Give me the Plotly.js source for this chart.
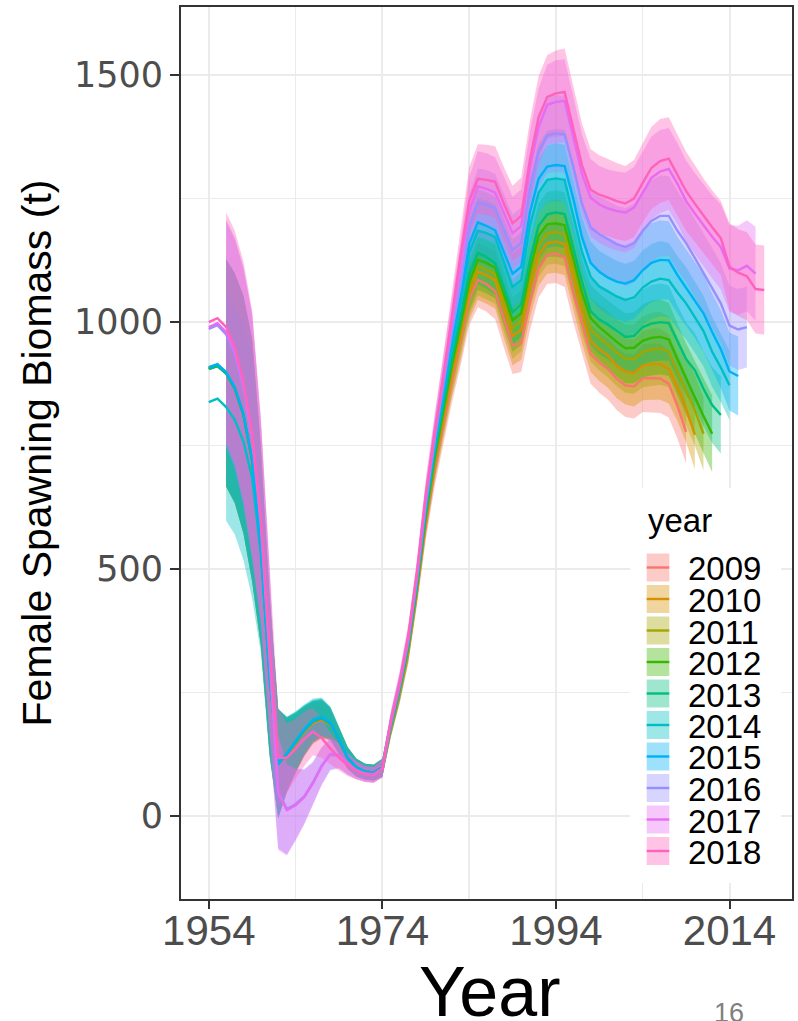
<!DOCTYPE html>
<html>
<head>
<meta charset="utf-8">
<script src="https://cdn.plot.ly/plotly-3.0.1.min.js"></script>
<style>
  html, body { margin: 0; padding: 0; background: #ffffff; }
  #chart { width: 798px; height: 1021px; }
</style>
</head>
<body>
<div id="chart"></div>
<script>
// Female spawning biomass (t) by assessment year, annual series starting in 1954.
const firstYear = 1954;
const assessYears = ['2009', '2010', '2011', '2012', '2013', '2014', '2015', '2016', '2017', '2018'];

const ssb2009 = [905,911,896,865,811,718,542,282,105,122,146,170,188,195,185,151,117,98,90,88,97,
  180,250,335,455,590,700,790,880,960,1045,1085,1077,1062,1005,953,957,
  1040,1108,1136,1139,1131,1060,997,935,918,
  905,885,872,870,886,887,886,875,830,778];
const ssb2010 = [908,914,898,867,813,720,545,284,106,123,147,171,189,196,186,152,117,98,90,88,97,
  182,252,338,460,598,710,803,893,972,1058,1102,1095,1085,1027,972,984,
  1068,1135,1160,1163,1158,1092,1020,962,945,
  932,912,900,897,912,915,915,905,868,825,772];
const ssb2011 = [907,913,897,866,812,719,544,285,106,124,148,172,190,197,186,152,117,98,90,88,98,
  183,254,340,463,602,716,810,902,982,1070,1113,1106,1097,1042,988,1003,
  1088,1155,1180,1183,1178,1110,1040,985,968,
  955,938,926,925,940,945,947,940,900,860,822,774];
const ssb2012 = [906,912,897,866,812,720,545,286,107,125,149,173,191,198,187,153,118,98,90,88,98,
  184,256,343,466,607,722,818,912,993,1080,1126,1120,1110,1056,1004,1018,
  1105,1175,1198,1200,1196,1130,1060,1008,990,
  975,960,947,948,962,968,970,965,925,885,848,810,774];
const ssb2013 = [905,911,896,865,811,720,546,287,107,126,150,174,193,200,189,154,118,99,90,88,98,
  185,258,346,470,613,730,828,925,1008,1097,1140,1132,1119,1068,1020,1036,
  1125,1195,1218,1222,1219,1150,1082,1022,1005,
  995,982,970,972,990,997,1000,998,960,925,903,865,832,812];
const ssb2014 = [838,845,828,802,758,685,530,280,104,126,152,176,196,202,190,155,118,98,90,88,98,
  186,260,350,475,620,740,845,945,1035,1140,1185,1180,1172,1120,1071,1085,
  1195,1262,1288,1291,1288,1216,1142,1092,1072,
  1062,1052,1045,1050,1070,1082,1088,1085,1060,1038,1010,982,940,908,872];
const ssb2015 = [909,915,899,868,814,722,548,288,107,125,150,174,192,199,188,153,118,98,90,88,98,
  188,262,352,478,625,748,855,958,1050,1158,1202,1195,1186,1140,1098,1112,
  1222,1290,1315,1318,1316,1250,1172,1120,1102,
  1090,1082,1078,1085,1105,1120,1126,1125,1095,1070,1045,1018,980,945,900,891];
const ssb2016 = [986,994,975,935,866,765,590,330,50,14,24,40,68,102,124,122,106,93,86,84,96,
  190,265,355,482,632,758,870,980,1075,1192,1242,1238,1230,1188,1146,1160,
  1270,1345,1378,1382,1380,1315,1240,1192,1178,
  1168,1158,1152,1160,1185,1205,1215,1215,1185,1160,1130,1100,1070,1038,993,985,990];
const ssb2017 = [990,998,980,940,872,770,600,335,46,12,22,38,66,100,126,124,106,93,85,83,96,
  195,272,365,495,650,775,890,1005,1110,1225,1275,1270,1262,1222,1180,1195,
  1310,1395,1440,1446,1448,1375,1300,1252,1238,
  1230,1225,1222,1232,1262,1292,1305,1310,1280,1245,1220,1196,1173,1152,1108,1105,1114,1098];
const ssb2018 = [1000,1008,990,950,880,775,600,340,118,118,136,156,171,158,137,118,103,92,85,84,96,
  192,268,362,492,645,770,885,1010,1135,1245,1290,1288,1284,1240,1200,1215,
  1328,1415,1456,1463,1466,1392,1318,1268,1258,
  1252,1245,1240,1250,1282,1312,1326,1331,1298,1265,1240,1215,1192,1170,1112,1100,1093,1067,1065];

// Half-width of the 95% interval (t); no interval for the first two years.
const ci2009 = [null,null,230,232,240,245,200,160,110,75,60,50,42,38,32,26,22,18,16,16,18,20,22,25,28,32,36,40,45,50,
  52,55,56,56,57,58,58,57,58,59,60,60,60,60,60,61,62,63,64,65,68,70,70,68,66,64];
const ci2010 = [null,null,230,232,240,245,200,160,110,75,60,50,42,38,32,26,22,18,16,16,18,20,22,25,28,32,36,40,45,50,
  54,57,58,58,59,60,60,60,61,62,63,63,63,63,63,64,65,66,67,68,70,72,72,70,68,68,70];
const ci2011 = [null,null,230,232,240,245,200,160,110,75,60,50,42,38,32,26,22,18,16,16,18,20,22,25,28,32,36,40,45,50,
  56,59,60,60,61,62,62,62,63,64,65,65,65,65,65,66,67,68,69,70,72,74,74,72,70,70,72,74];
const ci2012 = [null,null,230,232,240,245,200,160,110,75,60,50,42,38,32,26,22,18,16,16,18,20,22,25,28,32,36,40,45,50,
  58,61,62,62,63,64,64,64,65,66,67,67,67,67,67,68,69,70,71,72,74,76,76,74,72,72,74,76,78];
const ci2013 = [null,null,230,232,240,245,200,160,110,75,60,50,42,38,32,26,22,18,16,16,18,20,22,25,28,32,36,40,45,50,
  60,63,64,64,65,66,66,66,67,68,69,69,69,69,69,70,71,72,73,74,76,78,78,76,74,74,75,76,77,78];
const ci2014 = [null,null,230,232,240,245,200,160,110,75,60,50,42,38,32,26,22,18,16,16,18,20,22,25,28,32,36,40,45,50,
  62,65,66,66,67,68,68,68,69,70,71,71,71,71,71,72,72,72,73,74,75,76,76,75,74,73,72,72,71,70,70];
const ci2015 = [null,null,230,232,240,245,200,160,110,75,60,50,42,38,32,26,22,18,16,16,18,20,22,25,28,32,36,40,45,50,
  64,67,68,68,69,70,70,70,71,72,73,73,73,73,73,74,75,76,77,78,79,80,80,79,78,77,77,78,78,79,79,80];
const ci2016 = [null,null,228,232,240,248,205,165,115,92,72,55,42,38,32,26,22,18,16,16,18,20,22,25,28,32,36,40,45,52,
  66,69,70,70,71,72,72,72,74,76,78,78,77,76,75,76,77,78,79,80,81,82,82,81,80,79,79,80,80,81,81,82,82];
const ci2017 = [null,null,228,232,240,248,205,165,115,92,72,55,42,38,32,26,22,18,16,16,18,20,22,25,28,32,36,40,45,52,
  68,71,72,72,73,74,74,75,78,81,84,84,82,80,78,78,79,80,81,82,83,84,84,83,82,82,82,83,84,86,88,90,92,95];
const ci2018 = [null,null,232,235,242,248,205,165,100,70,60,55,48,40,32,26,22,18,16,16,18,20,22,25,28,32,36,40,46,55,
  68,70,71,72,74,76,78,80,83,85,87,88,86,84,82,80,78,77,76,78,80,83,85,84,82,80,78,76,75,75,88,88,89,90,90];

const xTickVals = [1954, 1974, 1994, 2014];
const yTickVals = [0, 500, 1000, 1500];

const ssbSeries = [ssb2009, ssb2010, ssb2011, ssb2012, ssb2013, ssb2014, ssb2015, ssb2016, ssb2017, ssb2018];
const ciSeries = [ci2009, ci2010, ci2011, ci2012, ci2013, ci2014, ci2015, ci2016, ci2017, ci2018];

// ggplot-style hue palette for ten groups
const palette = ['#F8766D', '#D89000', '#A3A500', '#39B600', '#00BF7D',
                 '#00BFC4', '#00B0F6', '#9590FF', '#E76BF3', '#FF62BC'];
const ribbonAlpha = 0.38;

function rgba(hex, a) {
  const n = parseInt(hex.slice(1), 16);
  return 'rgba(' + ((n >> 16) & 255) + ',' + ((n >> 8) & 255) + ',' + (n & 255) + ',' + a + ')';
}

const traces = [];

// Interval ribbons first, then the estimate lines on top of all of them.
ssbSeries.forEach(function (vals, i) {
  const ci = ciSeries[i];
  const xs = [], up = [], lo = [];
  vals.forEach(function (v, k) {
    if (ci[k] !== null) {
      xs.push(firstYear + k);
      up.push(v + ci[k]);
      lo.push(v - ci[k]);
    }
  });
  traces.push({
    type: 'scatter', mode: 'lines',
    x: xs.concat(xs.slice().reverse()),
    y: up.concat(lo.slice().reverse()),
    fill: 'toself', fillcolor: rgba(palette[i], ribbonAlpha),
    line: { width: 0, color: rgba(palette[i], 0) },
    hoverinfo: 'skip', showlegend: false
  });
});

ssbSeries.forEach(function (vals, i) {
  traces.push({
    type: 'scatter', mode: 'lines',
    name: assessYears[i],
    x: vals.map(function (_, k) { return firstYear + k; }),
    y: vals,
    line: { color: palette[i], width: 2.4 },
    showlegend: false
  });
});

// Plot-area geometry (px) used to place the in-panel key and the x title.
const W = 798, H = 1021;
const M = { l: 181, r: 6, t: 7, b: 122 };
const pw = W - M.l - M.r, ph = H - M.t - M.b;
const px = function (x) { return (x - M.l) / pw; };
const py = function (y) { return (H - M.b - y) / ph; };

const shapes = [];
const annotations = [];

// key background
shapes.push({ type: 'rect', xref: 'paper', yref: 'paper', layer: 'above',
  x0: px(630), x1: px(781), y0: py(883), y1: py(488),
  fillcolor: '#ffffff', line: { width: 0 } });

annotations.push({ xref: 'paper', yref: 'paper', x: px(645.5), y: py(520.5),
  xanchor: 'left', yanchor: 'middle', showarrow: false, text: 'year',
  font: { family: 'Liberation Sans, Arial, sans-serif', size: 33, color: '#000000' } });

const keyTop = 553.5, keyStep = 31.5, keyH = 28, keyX0 = 646.7, keyX1 = 669.3;
assessYears.forEach(function (lab, i) {
  const cy = keyTop + keyH / 2 + i * keyStep;
  shapes.push({ type: 'rect', xref: 'paper', yref: 'paper', layer: 'above',
    x0: px(keyX0), x1: px(keyX1), y0: py(cy + keyH / 2), y1: py(cy - keyH / 2),
    fillcolor: rgba(palette[i], ribbonAlpha), line: { width: 0 } });
  shapes.push({ type: 'line', xref: 'paper', yref: 'paper', layer: 'above',
    x0: px(keyX0), x1: px(keyX1), y0: py(cy), y1: py(cy),
    line: { color: palette[i], width: 2.4 } });
  annotations.push({ xref: 'paper', yref: 'paper', x: px(686), y: py(cy + 1.5),
    xanchor: 'left', yanchor: 'middle', showarrow: false, text: lab,
    font: { family: 'Liberation Sans, Arial, sans-serif', size: 33, color: '#000000' } });
});

// x-axis title, set low so that it runs down to the page edge
annotations.push({ xref: 'paper', yref: 'paper', x: px(489), y: py(992),
  xanchor: 'center', yanchor: 'middle', showarrow: false, text: 'Year',
  font: { family: 'Liberation Sans, Arial, sans-serif', size: 70, color: '#000000' } });

// slide page number
annotations.push({ xref: 'paper', yref: 'paper', x: px(729), y: py(1013),
  xanchor: 'center', yanchor: 'middle', showarrow: false, text: '16',
  font: { family: 'Liberation Sans, Arial, sans-serif', size: 27, color: '#808080' } });

const gridCol = '#EBEBEB', frameCol = '#333333';

const layout = {
  width: W, height: H,
  margin: M,
  paper_bgcolor: '#ffffff', plot_bgcolor: '#ffffff',
  showlegend: false,
  xaxis: {
    range: [1950.8, 2021.2],
    tickmode: 'array', tickvals: xTickVals, ticktext: xTickVals.map(String),
    ticks: 'outside', ticklen: 8, tickwidth: 2, tickcolor: frameCol,
    ticklabelstandoff: -14,
    tickfont: { family: 'Liberation Sans, Arial, sans-serif', size: 42, color: '#4D4D4D' },
    showgrid: true, gridcolor: gridCol, gridwidth: 2,
    minor: { tick0: 1954, dtick: 10, showgrid: true, gridcolor: gridCol, gridwidth: 1.3, ticks: '' },
    showline: true, mirror: true, linecolor: frameCol, linewidth: 2,
    zeroline: false
  },
  yaxis: {
    range: [-168, 1638],
    tickmode: 'array', tickvals: yTickVals, ticktext: yTickVals.map(String),
    ticks: 'outside', ticklen: 9, tickwidth: 2, tickcolor: frameCol,
    tickfont: { family: 'DejaVu Sans, sans-serif', size: 35, color: '#4D4D4D' },
    showgrid: true, gridcolor: gridCol, gridwidth: 2,
    minor: { tick0: 0, dtick: 250, showgrid: true, gridcolor: gridCol, gridwidth: 1.3, ticks: '' },
    showline: true, mirror: true, linecolor: frameCol, linewidth: 2,
    zeroline: false,
    title: { text: 'Female Spawning Biomass (t)', standoff: 10,
      font: { family: 'Liberation Sans, Arial, sans-serif', size: 41, color: '#000000' } }
  },
  shapes: shapes,
  annotations: annotations
};

Plotly.newPlot('chart', traces, layout, { staticPlot: true, displayModeBar: false });
</script>
</body>
</html>
